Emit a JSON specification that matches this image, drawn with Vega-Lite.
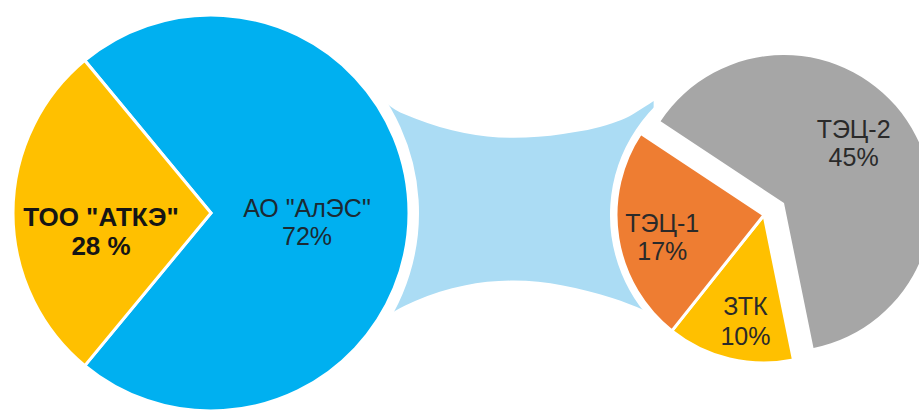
{
  "$schema": "https://vega.github.io/schema/vega-lite/v6.json",
  "width": 919,
  "height": 412,
  "autosize": {"type": "fit", "contains": "padding"},
  "padding": 0,
  "background": "white",
  "config": {"view": {"stroke": null}},
  "datasets": {
    "left": [
      {"pie": "L", "id": "L1", "name": "АО \"АлЭС\"", "value": 72, "label": "АО \"АлЭС\"\n72%"},
      {"pie": "L", "id": "L2", "name": "ТОО \"АТКЭ\"", "value": 28, "label": "ТОО \"АТКЭ\"\n28 %"}
    ],
    "right": [
      {"pie": "R", "id": "R1", "name": "ЗТК", "value": 10, "label": "ЗТК\n10%"},
      {"pie": "R", "id": "R2", "name": "ТЭЦ-1", "value": 17, "label": "ТЭЦ-1\n17%"},
      {"pie": "R", "id": "R3", "name": "ТЭЦ-2", "value": 45, "label": "ТЭЦ-2\n45%"}
    ],
    "connector": [
      {"x": 378, "top": 97, "bottom": 335},
      {"x": 385, "top": 102, "bottom": 330},
      {"x": 400, "top": 113, "bottom": 320},
      {"x": 420, "top": 122, "bottom": 310},
      {"x": 470, "top": 137, "bottom": 294},
      {"x": 520, "top": 142, "bottom": 289},
      {"x": 570, "top": 138, "bottom": 294},
      {"x": 620, "top": 127, "bottom": 307},
      {"x": 637, "top": 120, "bottom": 313},
      {"x": 653, "top": 110, "bottom": 320},
      {"x": 662, "top": 104, "bottom": 326}
    ]
  },
  "resolve": {"scale": {"x": "independent", "y": "independent", "theta": "independent"}},
  "layer": [
    {
      "data": {"name": "connector"},
      "mark": {"type": "area", "interpolate": "monotone", "color": "#ABDCF4"},
      "encoding": {
        "x": {"field": "x", "type": "quantitative", "scale": {"domain": [0, 919], "nice": false, "zero": false}, "axis": null},
        "y": {"field": "top", "type": "quantitative", "scale": {"domain": [0, 412], "nice": false, "zero": false, "reverse": true}, "axis": null},
        "y2": {"field": "bottom"}
      }
    },
    {
      "data": {"name": "left"},
      "mark": {"type": "arc", "radius": 207, "color": "white", "stroke": "white", "strokeWidth": 2},
      "encoding": {
        "x": {"field": "pie", "type": "nominal", "scale": {"type": "point", "domain": ["L", "R"], "range": [210, 763], "padding": 0}, "axis": null},
        "y": {"field": "pie", "type": "nominal", "scale": {"type": "point", "domain": ["L", "R"], "range": [213, 215], "padding": 0}, "axis": null},
        "theta": {"field": "value", "type": "quantitative", "stack": true},
        "detail": {"field": "id"}
      }
    },
    {
      "data": {"name": "right"},
      "mark": {"type": "arc", "radius": 153, "color": "white", "stroke": "white", "strokeWidth": 2},
      "encoding": {
        "x": {"field": "pie", "type": "nominal", "scale": {"type": "point", "domain": ["L", "R"], "range": [210, 763], "padding": 0}, "axis": null},
        "y": {"field": "pie", "type": "nominal", "scale": {"type": "point", "domain": ["L", "R"], "range": [213, 215], "padding": 0}, "axis": null},
        "theta": {"field": "value", "type": "quantitative", "stack": true},
        "detail": {"field": "id"}
      }
    },
    {
      "data": {"name": "left"},
      "mark": {"type": "arc", "radius": 198, "stroke": "white", "strokeWidth": 3},
      "encoding": {
        "x": {"field": "pie", "type": "nominal", "scale": {"type": "point", "domain": ["L", "R"], "range": [210, 763], "padding": 0}, "axis": null},
        "y": {"field": "pie", "type": "nominal", "scale": {"type": "point", "domain": ["L", "R"], "range": [213, 215], "padding": 0}, "axis": null},
        "theta": {"field": "value", "type": "quantitative", "stack": true, "scale": {"range": [5.592, 11.875]}},
        "order": {"field": "id", "type": "nominal"},
        "color": {"field": "name", "type": "nominal", "scale": {"domain": ["АО \"АлЭС\"", "ТОО \"АТКЭ\"", "ЗТК", "ТЭЦ-1", "ТЭЦ-2"], "range": ["#00B0F0", "#FFC000", "#FFC000", "#EE7D32", "#A6A6A6"]}, "legend": null}
      }
    },
    {
      "data": {"name": "right"},
      "mark": {"type": "arc", "radius": 148, "stroke": "white", "strokeWidth": 3},
      "encoding": {
        "x": {"field": "pie", "type": "nominal", "scale": {"type": "point", "domain": ["L", "R"], "range": [210, 763], "padding": 0}, "axis": null},
        "y": {"field": "pie", "type": "nominal", "scale": {"type": "point", "domain": ["L", "R"], "range": [213, 215], "padding": 0}, "axis": null},
        "theta": {"field": "value", "type": "quantitative", "stack": true, "scale": {"range": [2.941, 9.224]}},
        "order": {"field": "id", "type": "nominal"},
        "color": {"field": "name", "type": "nominal", "legend": null},
        "opacity": {"condition": {"test": "datum.id === 'R3'", "value": 0}, "value": 1}
      }
    },
    {
      "data": {"name": "right"},
      "mark": {"type": "arc", "radius": 148, "xOffset": 20, "yOffset": -12},
      "encoding": {
        "x": {"field": "pie", "type": "nominal", "scale": {"type": "point", "domain": ["L", "R"], "range": [210, 763], "padding": 0}, "axis": null},
        "y": {"field": "pie", "type": "nominal", "scale": {"type": "point", "domain": ["L", "R"], "range": [213, 215], "padding": 0}, "axis": null},
        "theta": {"field": "value", "type": "quantitative", "stack": true, "scale": {"range": [2.941, 9.224]}},
        "order": {"field": "id", "type": "nominal"},
        "color": {"field": "name", "type": "nominal", "legend": null},
        "opacity": {"condition": {"test": "datum.id === 'R3'", "value": 1}, "value": 0}
      }
    },
    {
      "data": {"name": "left"},
      "mark": {"type": "text", "radius": 110, "dy": 5, "font": "Liberation Sans", "fontSize": 26, "fontWeight": "bold", "lineBreak": "\n", "lineHeight": 29, "align": "center", "baseline": "middle", "color": "#151515"},
      "encoding": {
        "x": {"field": "pie", "type": "nominal", "scale": {"type": "point", "domain": ["L", "R"], "range": [210, 763], "padding": 0}, "axis": null},
        "y": {"field": "pie", "type": "nominal", "scale": {"type": "point", "domain": ["L", "R"], "range": [213, 215], "padding": 0}, "axis": null},
        "theta": {"field": "value", "type": "quantitative", "stack": true, "scale": {"range": [5.592, 11.875]}},
        "order": {"field": "id", "type": "nominal"},
        "detail": {"field": "id"},
        "text": {"condition": {"test": "datum.id === 'L2'", "field": "label"}, "value": ""}
      }
    },
    {
      "data": {"name": "left"},
      "mark": {"type": "text", "radius": 96, "dy": -4, "font": "Liberation Sans", "fontSize": 25, "lineBreak": "\n", "lineHeight": 28, "align": "center", "baseline": "middle", "color": "#1c2a33"},
      "encoding": {
        "x": {"field": "pie", "type": "nominal", "scale": {"type": "point", "domain": ["L", "R"], "range": [210, 763], "padding": 0}, "axis": null},
        "y": {"field": "pie", "type": "nominal", "scale": {"type": "point", "domain": ["L", "R"], "range": [213, 215], "padding": 0}, "axis": null},
        "theta": {"field": "value", "type": "quantitative", "stack": true, "scale": {"range": [5.592, 11.875]}},
        "order": {"field": "id", "type": "nominal"},
        "detail": {"field": "id"},
        "text": {"condition": {"test": "datum.id === 'L1'", "field": "label"}, "value": ""}
      }
    },
    {
      "data": {"name": "right"},
      "mark": {"type": "text", "radius": 103, "dy": -7, "font": "Liberation Sans", "fontSize": 25, "lineBreak": "\n", "lineHeight": 28, "align": "center", "baseline": "middle", "color": "#2a2a2a"},
      "encoding": {
        "x": {"field": "pie", "type": "nominal", "scale": {"type": "point", "domain": ["L", "R"], "range": [210, 763], "padding": 0}, "axis": null},
        "y": {"field": "pie", "type": "nominal", "scale": {"type": "point", "domain": ["L", "R"], "range": [213, 215], "padding": 0}, "axis": null},
        "theta": {"field": "value", "type": "quantitative", "stack": true, "scale": {"range": [2.941, 9.224]}},
        "order": {"field": "id", "type": "nominal"},
        "detail": {"field": "id"},
        "text": {"condition": {"test": "datum.id === 'R2'", "field": "label"}, "value": ""}
      }
    },
    {
      "data": {"name": "right"},
      "mark": {"type": "text", "radius": 105, "dx": 6, "dy": -10, "font": "Liberation Sans", "fontSize": 25, "lineBreak": "\n", "lineHeight": 30, "align": "center", "baseline": "middle", "color": "#2a2a2a"},
      "encoding": {
        "x": {"field": "pie", "type": "nominal", "scale": {"type": "point", "domain": ["L", "R"], "range": [210, 763], "padding": 0}, "axis": null},
        "y": {"field": "pie", "type": "nominal", "scale": {"type": "point", "domain": ["L", "R"], "range": [213, 215], "padding": 0}, "axis": null},
        "theta": {"field": "value", "type": "quantitative", "stack": true, "scale": {"range": [2.941, 9.224]}},
        "order": {"field": "id", "type": "nominal"},
        "detail": {"field": "id"},
        "text": {"condition": {"test": "datum.id === 'R1'", "field": "label"}, "value": ""}
      }
    },
    {
      "data": {"name": "right"},
      "mark": {"type": "text", "radius": 90, "xOffset": 20, "yOffset": -12, "dx": -5, "dy": -23, "font": "Liberation Sans", "fontSize": 25, "lineBreak": "\n", "lineHeight": 28, "align": "center", "baseline": "middle", "color": "#2a2a2a"},
      "encoding": {
        "x": {"field": "pie", "type": "nominal", "scale": {"type": "point", "domain": ["L", "R"], "range": [210, 763], "padding": 0}, "axis": null},
        "y": {"field": "pie", "type": "nominal", "scale": {"type": "point", "domain": ["L", "R"], "range": [213, 215], "padding": 0}, "axis": null},
        "theta": {"field": "value", "type": "quantitative", "stack": true, "scale": {"range": [2.941, 9.224]}},
        "order": {"field": "id", "type": "nominal"},
        "detail": {"field": "id"},
        "text": {"condition": {"test": "datum.id === 'R3'", "field": "label"}, "value": ""}
      }
    }
  ]
}
